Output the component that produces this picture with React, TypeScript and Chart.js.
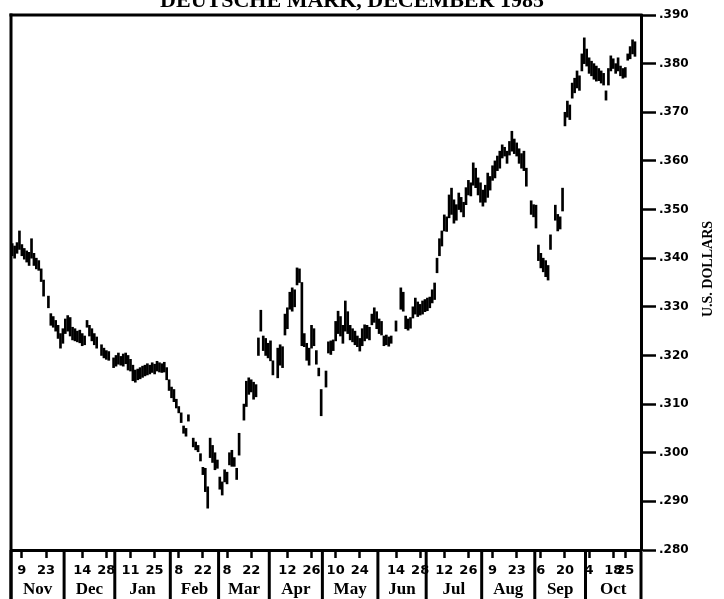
import { useEffect, useRef } from 'react';
import { Chart, registerables } from 'chart.js';

Chart.register(...registerables);

// Trading-day (weekday) index 0 = Thu Nov 1 1984 ... 260 = Thu Oct 31 1985
const dayCount = 261;

// Daily high prices (U.S. dollars per mark); null = no trade plotted
const highs: (number | null)[] = [
  0.3430, 0.3425, 0.3432, 0.3456, 0.3428, 0.3420, 0.3415, 0.3412, 0.3440, 0.3410,
  0.3400, 0.3395, 0.3378, 0.3355, null, 0.3322, 0.3286, 0.3280, 0.3272, 0.3262,
  0.3245, 0.3255, 0.3275, 0.3282, 0.3278, 0.3258, 0.3255, 0.3250, 0.3252, 0.3245,
  0.3240, 0.3272, 0.3262, 0.3255, 0.3245, 0.3238, null, 0.3222, 0.3215, 0.3210,
  0.3208, null, 0.3195, 0.3200, 0.3205, 0.3198, 0.3203, 0.3205, 0.3200, 0.3192,
  0.3180, 0.3170, 0.3172, 0.3175, 0.3178, 0.3180, 0.3183, 0.3180, 0.3185, 0.3182,
  0.3188, 0.3185, 0.3183, 0.3186, 0.3175, 0.3150, 0.3135, 0.3130, 0.3110, 0.3095,
  0.3082, 0.3055, 0.3050, 0.3078, null, 0.3030, 0.3022, 0.3015, 0.2998, 0.2970,
  0.2968, 0.2930, 0.3030, 0.3015, 0.3000, 0.2985, 0.2950, 0.2940, 0.2965, 0.2960,
  0.3000, 0.3005, 0.2990, 0.2968, 0.3040, null, 0.3100, 0.3147, 0.3154, 0.3150,
  0.3145, 0.3140, 0.3236, 0.3293, 0.3240, 0.3235, 0.3225, 0.3230, 0.3189, null,
  0.3215, 0.3222, 0.3218, 0.3285, 0.3298, 0.3330, 0.3339, 0.3335, 0.3380, 0.3378,
  0.3350, 0.3245, 0.3225, 0.3215, 0.3262, 0.3255, 0.3210, 0.3174, 0.3130, null,
  0.3168, 0.3228, 0.3230, 0.3232, 0.3270, 0.3291, 0.3280, 0.3262, 0.3312, 0.3290,
  0.3262, 0.3255, 0.3250, 0.3240, 0.3235, 0.3255, 0.3263, 0.3262, 0.3258, 0.3285,
  0.3298, 0.3290, 0.3275, 0.3270, 0.3240, 0.3242, 0.3238, 0.3240, null, 0.3271,
  null, 0.3339, 0.3330, 0.3281, 0.3275, 0.3278, 0.3300, 0.3318, 0.3310, 0.3305,
  0.3312, 0.3315, 0.3318, 0.3320, 0.3335, 0.3349, 0.3400, 0.3440, 0.3456, 0.3489,
  0.3485, 0.3530, 0.3544, 0.3520, 0.3510, 0.3534, 0.3525, 0.3515, 0.3545, 0.3560,
  0.3555, 0.3596, 0.3585, 0.3565, 0.3555, 0.3540, 0.3550, 0.3575, 0.3568, 0.3590,
  0.3600, 0.3610, 0.3620, 0.3633, 0.3628, 0.3620, 0.3640, 0.3661, 0.3645, 0.3637,
  0.3625, 0.3615, 0.3620, 0.3585, null, 0.3518, 0.3510, 0.3509, 0.3427, 0.3410,
  0.3400, 0.3395, 0.3385, 0.3448, null, 0.3509, 0.3490, 0.3485, 0.3544, 0.3700,
  0.3723, 0.3715, 0.3760, 0.3770, 0.3785, 0.3775, 0.3820, 0.3853, 0.3830, 0.3812,
  0.3805, 0.3800, 0.3795, 0.3790, 0.3785, 0.3780, 0.3744, 0.3790, 0.3816, 0.3810,
  0.3800, 0.3812, 0.3795, 0.3790, 0.3792, 0.3820, 0.3835, 0.3849, 0.3845, null,
  null,
];

// Daily low prices
const lows: (number | null)[] = [
  0.3405, 0.3400, 0.3410, 0.3418, 0.3405, 0.3398, 0.3392, 0.3385, 0.3400, 0.3385,
  0.3378, 0.3375, 0.3352, 0.3322, null, 0.3298, 0.3262, 0.3258, 0.3250, 0.3235,
  0.3215, 0.3225, 0.3245, 0.3250, 0.3240, 0.3232, 0.3230, 0.3228, 0.3226, 0.3220,
  0.3222, 0.3258, 0.3240, 0.3230, 0.3222, 0.3215, null, 0.3200, 0.3195, 0.3192,
  0.3190, null, 0.3175, 0.3178, 0.3182, 0.3180, 0.3178, 0.3183, 0.3170, 0.3168,
  0.3148, 0.3145, 0.3150, 0.3152, 0.3155, 0.3158, 0.3160, 0.3162, 0.3165, 0.3162,
  0.3168, 0.3166, 0.3165, 0.3166, 0.3150, 0.3128, 0.3113, 0.3105, 0.3092, 0.3082,
  0.3062, 0.3040, 0.3034, 0.3065, null, 0.3012, 0.3006, 0.3002, 0.2983, 0.2955,
  0.2920, 0.2886, 0.2990, 0.2980, 0.2965, 0.2968, 0.2925, 0.2913, 0.2940, 0.2936,
  0.2975, 0.2972, 0.2972, 0.2945, 0.2995, null, 0.3067, 0.3095, 0.3120, 0.3125,
  0.3110, 0.3115, 0.3200, 0.3250, 0.3210, 0.3200, 0.3195, 0.3189, 0.3160, null,
  0.3154, 0.3180, 0.3175, 0.3242, 0.3255, 0.3295, 0.3291, 0.3300, 0.3345, 0.3350,
  0.3220, 0.3218, 0.3190, 0.3180, 0.3215, 0.3220, 0.3182, 0.3158, 0.3076, null,
  0.3135, 0.3205, 0.3202, 0.3210, 0.3230, 0.3245, 0.3240, 0.3225, 0.3250, 0.3245,
  0.3232, 0.3228, 0.3222, 0.3218, 0.3209, 0.3220, 0.3230, 0.3235, 0.3232, 0.3263,
  0.3268, 0.3255, 0.3245, 0.3242, 0.3220, 0.3222, 0.3219, 0.3225, null, 0.3250,
  null, 0.3295, 0.3291, 0.3255, 0.3252, 0.3256, 0.3277, 0.3285, 0.3280, 0.3283,
  0.3285, 0.3290, 0.3292, 0.3298, 0.3308, 0.3315, 0.3370, 0.3405, 0.3425, 0.3456,
  0.3455, 0.3483, 0.3490, 0.3472, 0.3478, 0.3500, 0.3495, 0.3485, 0.3510, 0.3530,
  0.3528, 0.3550, 0.3545, 0.3530, 0.3515, 0.3507, 0.3515, 0.3525, 0.3540, 0.3560,
  0.3565, 0.3580, 0.3585, 0.3606, 0.3610, 0.3595, 0.3612, 0.3620, 0.3615, 0.3610,
  0.3595, 0.3585, 0.3580, 0.3548, null, 0.3490, 0.3485, 0.3462, 0.3395, 0.3380,
  0.3372, 0.3362, 0.3355, 0.3418, null, 0.3478, 0.3456, 0.3460, 0.3497, 0.3672,
  0.3690, 0.3685, 0.3729, 0.3740, 0.3750, 0.3745, 0.3785, 0.3800, 0.3795, 0.3780,
  0.3775, 0.3768, 0.3764, 0.3765, 0.3760, 0.3756, 0.3725, 0.3756, 0.3785, 0.3790,
  0.3780, 0.3785, 0.3775, 0.3770, 0.3772, 0.3807, 0.3810, 0.3820, 0.3815, null,
  null,
];

const months = ['Nov', 'Dec', 'Jan', 'Feb', 'Mar', 'Apr', 'May', 'Jun', 'Jul', 'Aug', 'Sep', 'Oct'];
const monthStart = [0, 22, 43, 66, 86, 107, 129, 152, 172, 195, 217, 238];

// Bi-weekly date ticks (placed mid-week, as on the original chart)
const tickDay = [4, 14, 29, 39, 49, 59, 69, 79, 89, 99, 114, 124, 134, 144, 159, 169, 179, 189, 199, 209, 219, 229, 239, 249, 254];
const tickLabel = ['9', '23', '14', '28', '11', '25', '8', '22', '8', '22', '12', '26', '10', '24', '14', '28', '12', '26', '9', '23', '6', '20', '4', '18', '25'];

const titleText = 'DEUTSCHE MARK, DECEMBER 1985';
const yTitle = 'U.S. DOLLARS';
const yMin = 0.28;
const yMax = 0.39;
const yStep = 0.01;

const SERIF = '"Liberation Serif", "DejaVu Serif", serif';
const SANS = '"DejaVu Sans", sans-serif';

const framePlugin = {
  id: 'frame',
  afterDraw(chart: any) {
    const { ctx, chartArea: a, scales } = chart;
    const x = scales.x;
    const H = chart.height;
    ctx.save();
    ctx.strokeStyle = '#000';
    ctx.fillStyle = '#000';
    ctx.lineWidth = 3;
    ctx.lineCap = 'square';
    // top border
    ctx.beginPath();
    ctx.moveTo(a.left, a.top);
    ctx.lineTo(a.right, a.top);
    ctx.stroke();
    // left border (continues down as first month separator)
    ctx.beginPath();
    ctx.moveTo(a.left, a.top);
    ctx.lineTo(a.left, H);
    ctx.stroke();
    // month separators
    ctx.lineCap = 'butt';
    const bounds = [...monthStart, dayCount];
    bounds.forEach((d) => {
      const px = x.getPixelForValue(d - 0.5);
      ctx.beginPath();
      ctx.moveTo(px, a.bottom);
      ctx.lineTo(px, H);
      ctx.stroke();
    });
    // month labels
    ctx.font = `bold 17px ${SERIF}`;
    ctx.textAlign = 'center';
    ctx.textBaseline = 'alphabetic';
    months.forEach((m, i) => {
      const x0 = x.getPixelForValue(bounds[i] - 0.5);
      const x1 = x.getPixelForValue(bounds[i + 1] - 0.5);
      ctx.fillText(m, (x0 + x1) / 2, 594);
    });
    // title (cut off at top edge as in original)
    ctx.font = `bold 22px ${SERIF}`;
    ctx.fillText(titleText, 352, 7);
    // y-axis title, reading bottom to top
    ctx.translate(708, 269);
    ctx.rotate(-Math.PI / 2);
    ctx.font = `bold 14px ${SERIF}`;
    ctx.textBaseline = 'middle';
    ctx.fillText(yTitle, 0, 0);
    ctx.restore();
  },
};

export default function App() {
  const ref = useRef<HTMLCanvasElement>(null);
  useEffect(() => {
    document.body.style.margin = '0';
    const bars: any[] = [];
    highs.forEach((h, i) => {
      const l = lows[i];
      if (h != null && l != null) bars.push({ x: i, y: [l, h] });
    });
    const chart = new Chart(ref.current as HTMLCanvasElement, {
      type: 'bar',
      data: {
        datasets: [
          {
            data: bars,
            backgroundColor: '#000',
            borderWidth: 0,
            barThickness: 2,
          } as any,
        ],
      },
      options: {
        responsive: false,
        animation: false,
        layout: { padding: { left: 11, top: 15, right: 0, bottom: 0 } },
        plugins: {
          legend: { display: false },
          tooltip: { enabled: false },
          title: { display: false },
        },
        scales: {
          x: {
            type: 'linear',
            position: 'bottom',
            min: -0.5,
            max: dayCount - 0.5,
            offset: false,
            afterBuildTicks: (s: any) => {
              s.ticks = tickDay.map((v) => ({ value: v }));
            },
            afterFit: (s: any) => {
              s.height = 49;
            },
            grid: {
              offset: false,
              drawOnChartArea: false,
              drawTicks: true,
              tickLength: 8,
              tickWidth: 2.5,
              color: '#000',
            },
            border: { display: true, color: '#000', width: 3 },
            ticks: {
              autoSkip: false,
              maxRotation: 0,
              minRotation: 0,
              padding: 5,
              color: '#000',
              font: { family: SANS, weight: 'bold', size: 13 },
              callback: (_v: any, i: number) => tickLabel[i],
            },
          } as any,
          y: {
            type: 'linear',
            position: 'right',
            min: yMin,
            max: yMax,
            afterFit: (s: any) => {
              s.width = 83;
            },
            grid: {
              drawOnChartArea: false,
              drawTicks: true,
              tickLength: 15,
              tickWidth: 2.5,
              color: '#000',
            },
            border: { display: true, color: '#000', width: 3 },
            ticks: {
              stepSize: yStep,
              padding: 3,
              color: '#000',
              font: { family: SANS, weight: 'bold', size: 12 },
              callback: (v: any) => Number(v).toFixed(3).slice(1),
            },
          } as any,
        },
      },
      plugins: [framePlugin],
    });
    return () => chart.destroy();
  }, []);
  return (
    <div style={{ width: 724, height: 599, overflow: 'hidden', background: '#fff' }}>
      <canvas ref={ref} width={724} height={599} style={{ display: 'block' }} />
    </div>
  );
}
